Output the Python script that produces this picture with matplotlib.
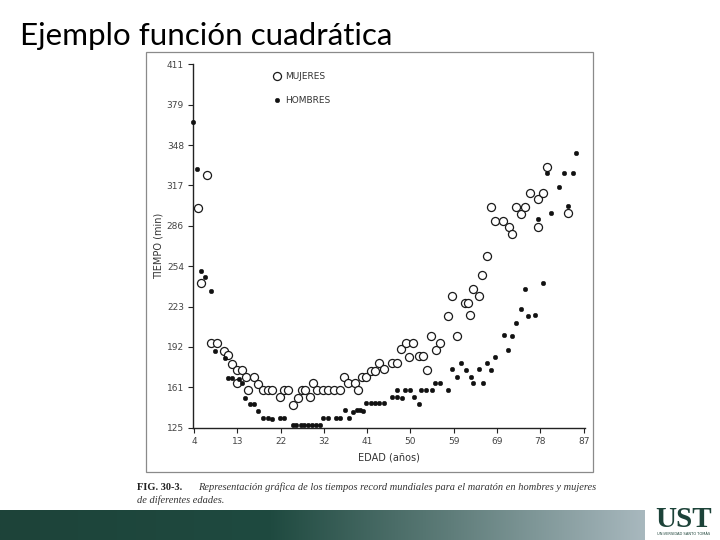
import numpy as np
import matplotlib
matplotlib.use("Agg")
import matplotlib.pyplot as plt
from matplotlib.colors import LinearSegmentedColormap
from matplotlib.patches import Rectangle

# ---------------- data ----------------
title = "Ejemplo función cuadrática"
x_label = "EDAD (años)"
y_label = "TIEMPO (min)"
x_tick_labels = ["4", "13", "22", "32", "41", "50", "59", "69", "78", "87"]
y_tick_labels = ["125", "161", "192", "223", "254", "286", "317", "348", "379", "411"]
legend_labels = ["MUJERES", "HOMBRES"]
caption_bold = "FIG. 30-3."
caption_line1 = "Representación gráfica de los tiempos record mundiales para el maratón en hombres y mujeres"
caption_line2 = "de diferentes edades."

mujeres_edad = [4.9, 5.4, 6.8, 7.6, 8.9, 10.3, 11.3, 12.2, 13.2, 14.2, 13.1, 15.1, 16.8, 15.6,
                17.7, 18.8, 19.7, 20.6, 22.4, 23.1, 24.1, 25.0, 26.2, 26.9, 27.6, 28.7, 29.4,
                30.3, 31.5, 32.6, 33.9, 35.1, 36.0, 36.9, 38.3, 38.9, 39.7, 40.6, 41.6, 42.6,
                43.4, 44.5, 46.1, 47.2, 48.1, 49.1, 50.7, 49.8, 51.9, 52.8, 53.7, 54.4, 55.5,
                56.4, 58.2, 59.0, 60.0, 61.7, 62.4, 62.8, 63.5, 64.6, 65.4, 66.5, 67.2, 68.1,
                69.9, 71.0, 71.8, 72.6, 73.6, 74.6, 75.6, 77.3, 77.3, 78.4, 79.1, 83.7]
mujeres_tiempo = [297.7, 239.1, 323.6, 191.4, 191.4, 185.6, 182.0, 175.4, 170.2, 170.2, 160.4,
                  165.1, 164.9, 154.4, 159.4, 154.7, 154.7, 154.7, 148.9, 154.4, 154.4, 142.9,
                  148.1, 154.4, 154.7, 148.9, 159.9, 154.7, 154.7, 154.7, 154.7, 154.7, 165.1,
                  159.9, 159.9, 154.7, 165.1, 165.1, 169.6, 169.6, 176.2, 171.0, 176.2, 176.2,
                  186.7, 191.9, 191.9, 180.9, 181.4, 181.4, 170.4, 197.2, 186.1, 191.4, 212.9,
                  228.6, 197.2, 223.4, 223.4, 213.5, 234.4, 228.9, 244.9, 260.4, 298.9, 287.9,
                  287.9, 282.7, 277.4, 298.5, 293.2, 298.9, 309.5, 304.8, 282.7, 309.5, 329.9,
                  293.7]

hombres_edad = [3.7, 4.7, 5.6, 6.4, 7.6, 8.5, 10.5, 11.2, 12.2, 13.5, 14.2, 14.9, 15.9, 16.8,
                17.6, 18.6, 19.8, 20.7, 22.3, 23.2, 25.0, 25.8, 26.7, 27.5, 28.3, 29.2, 30.0,
                30.8, 31.4, 32.6, 34.2, 35.2, 36.2, 37.0, 37.9, 38.8, 39.4, 39.9, 40.6, 41.6,
                42.6, 43.5, 44.5, 46.2, 47.2, 48.2, 47.3, 48.9, 50.0, 50.9, 51.9, 52.4, 53.4,
                54.6, 55.3, 56.4, 58.2, 58.9, 60.0, 60.9, 61.9, 62.9, 63.5, 64.6, 65.5, 66.5,
                67.3, 68.2, 70.0, 70.9, 71.8, 72.6, 73.6, 75.2, 76.6, 74.5, 78.4, 77.3, 80.1,
                79.1, 81.8, 82.9, 83.6, 84.8, 85.4]
hombres_tiempo = [365.4, 328.4, 248.6, 243.4, 232.8, 185.6, 179.6, 164.4, 164.4, 163.3, 159.9,
                  148.1, 143.4, 143.4, 138.1, 132.4, 132.4, 131.8, 132.4, 132.4, 126.9, 126.9,
                  126.9, 126.9, 126.9, 126.9, 126.9, 126.9, 132.6, 132.6, 132.9, 132.9, 138.9,
                  132.9, 137.6, 138.9, 138.9, 138.4, 144.2, 144.2, 144.2, 144.2, 144.2, 149.4,
                  148.9, 148.6, 154.7, 154.7, 154.7, 148.9, 143.7, 154.7, 154.7, 154.7, 160.4,
                  160.4, 154.7, 171.0, 165.1, 176.2, 170.2, 165.1, 160.4, 171.0, 160.4, 176.2,
                  170.2, 180.9, 198.0, 186.1, 197.4, 207.6, 218.2, 212.9, 213.5, 234.2, 239.1,
                  289.0, 293.7, 325.7, 314.7, 325.2, 299.5, 325.2, 341.0]

# ---------------- figure ----------------
W, H = 720, 540
fig = plt.figure(figsize=(7.2, 5.4), dpi=100, facecolor="white")

def fx(px):
    return px / W

def fy(py):
    return 1 - py / H

# slide title
fig.text(fx(20), fy(45), title, fontsize=22.6, family=["Lato", "DejaVu Sans"],
         color="black", ha="left", va="baseline")

# scanned-figure frame
fig.patches.append(Rectangle((fx(146), fy(472)), fx(593) - fx(146), fy(52) - fy(472),
                             transform=fig.transFigure, fill=False, ec="#8a8a8a", lw=0.9))

# main axes
ax = fig.add_axes([fx(193), fy(427.7), fx(585) - fx(193), fy(64.3) - fy(427.7)])
ax.set_xlim(3.79, 87.28)
ax.set_ylim(125, 411)
ax.set_facecolor("white")
for s in ["top", "right"]:
    ax.spines[s].set_visible(False)
for s in ["left", "bottom"]:
    ax.spines[s].set_color("#222222")
    ax.spines[s].set_linewidth(1.0)

ax.set_xticks(np.linspace(4, 87, len(x_tick_labels)))
ax.set_xticklabels(x_tick_labels)
ax.set_yticks(np.linspace(125, 411, len(y_tick_labels)))
ax.set_yticklabels(y_tick_labels)
ax.tick_params(axis="both", direction="out", length=3.5, width=0.8, color="#222222",
               labelsize=6.5, labelcolor="#444444", pad=3)

ax.plot(mujeres_edad, mujeres_tiempo, linestyle="none", marker="o", markersize=5.8,
        markerfacecolor="white", markeredgecolor="#1a1a1a", markeredgewidth=0.9,
        clip_on=False, label=legend_labels[0], zorder=3)
ax.plot(hombres_edad, hombres_tiempo, linestyle="none", marker="o", markersize=3.3,
        markerfacecolor="#111111", markeredgecolor="#111111", markeredgewidth=0.3,
        clip_on=False, label=legend_labels[1], zorder=4)

leg = ax.legend(loc="upper left", bbox_to_anchor=(0.186, 0.995), frameon=False,
                fontsize=6.5, handletextpad=0.4, labelspacing=1.65, handlelength=1.0,
                borderaxespad=0.3)
for t in leg.get_texts():
    t.set_color("#333333")

ax.set_xlabel(x_label, fontsize=7, color="#333333", labelpad=5)
ax.set_ylabel(y_label, fontsize=7, color="#333333", labelpad=2)

# caption
cap_fs = 7.5
fig.text(fx(137), fy(490), caption_bold, fontsize=cap_fs, family="Liberation Serif",
         weight="bold", ha="left", va="baseline", color="#222222")
fig.text(fx(198), fy(490), caption_line1, fontsize=cap_fs, family="Liberation Serif",
         style="italic", ha="left", va="baseline", color="#333333")
fig.text(fx(137), fy(503), caption_line2, fontsize=cap_fs, family="Liberation Serif",
         style="italic", ha="left", va="baseline", color="#333333")

# bottom gradient bar
bar_ax = fig.add_axes([0, 0, fx(645), fy(510)])
cmap = LinearSegmentedColormap.from_list("bar", [(0, "#1d4339"), (0.42, "#1f4a40"),
                                                 (0.7, "#5f7d7a"), (1, "#a8b8be")])
bar_ax.imshow(np.linspace(0, 1, 256)[None, :], aspect="auto", cmap=cmap,
              extent=[0, 1, 0, 1])
bar_ax.set_axis_off()

# logo
fig.text(fx(684), fy(527), "UST", fontsize=21, family="Liberation Serif", weight="bold",
         color="#1d4339", ha="center", va="baseline")
fig.text(fx(684), fy(535), "UNIVERSIDAD SANTO TOMÁS", fontsize=2.6, family="DejaVu Sans",
         color="#1d4339", ha="center", va="baseline")

fig.savefig("out.png", dpi=100, facecolor="white")
